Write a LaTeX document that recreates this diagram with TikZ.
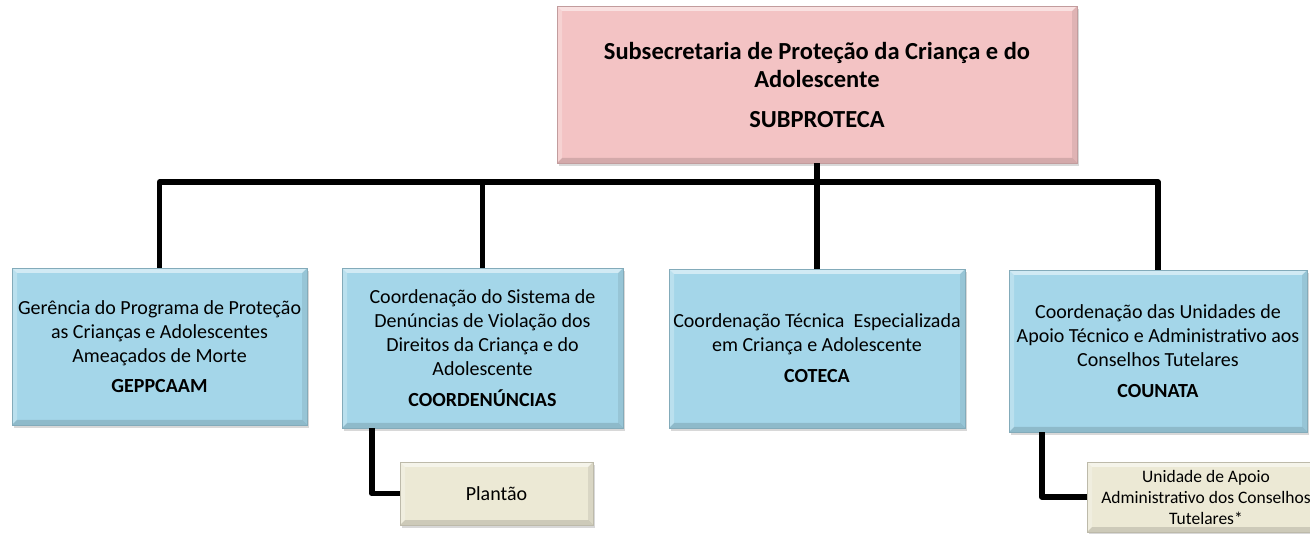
\documentclass[tikz,border=0pt]{standalone}
\usepackage{fontspec}
\setmainfont{Carlito}
\usetikzlibrary{shadows,calc}
\definecolor{boxblue}{HTML}{A4D6E9}
\definecolor{boxpink}{HTML}{F3C3C4}
\definecolor{boxtan}{HTML}{ECE9D5}
\tikzset{
  bevel/.style={path picture={
    \fill[white,opacity=0.5] (path picture bounding box.north west) -- (path picture bounding box.north east) -- ([xshift=-5pt,yshift=-5pt]path picture bounding box.north east) -- ([xshift=5pt,yshift=-5pt]path picture bounding box.north west) -- cycle;
    \fill[white,opacity=0.25] (path picture bounding box.north west) -- ([xshift=5pt,yshift=-5pt]path picture bounding box.north west) -- ([xshift=5pt,yshift=5pt]path picture bounding box.south west) -- (path picture bounding box.south west) -- cycle;
    \fill[black,opacity=0.13] (path picture bounding box.south west) -- (path picture bounding box.south east) -- ([xshift=-5pt,yshift=5pt]path picture bounding box.south east) -- ([xshift=5pt,yshift=5pt]path picture bounding box.south west) -- cycle;
    \fill[black,opacity=0.08] (path picture bounding box.north east) -- (path picture bounding box.south east) -- ([xshift=-5pt,yshift=5pt]path picture bounding box.south east) -- ([xshift=-5pt,yshift=-5pt]path picture bounding box.north east) -- cycle;
  }},
  orgbox/.style={draw=#1!80!black, line width=0.5pt, fill=#1, inner sep=0pt,
    align=center, bevel,
    drop shadow={shadow xshift=2pt, shadow yshift=-3pt, opacity=0.3}},
  bodyfont/.style={font=\fontsize{20}{24}\selectfont},
  conn/.style={line width=5.5pt, black, line join=round},
}
\begin{document}
\begin{tikzpicture}[x=1pt,y=-1pt]
\clip (0,0) rectangle (1310,534);
\fill[white] (0,0) rectangle (1310,534);

\node[orgbox=boxpink, minimum width=520pt, minimum height=157pt,
      font=\bfseries\fontsize{24.5}{28}\selectfont] (top) at (817,84.5)
  {Subsecretaria de Proteção da Criança e do\\Adolescente\\[12pt]SUBPROTECA};

\node[orgbox=boxblue, bodyfont, minimum width=295pt, minimum height=157pt] (gepp) at (159.5,346.5)
  {Gerência do Programa de Proteção\\as Crianças e Adolescentes\\Ameaçados de Morte\\[6pt]\textbf{GEPPCAAM}};

\node[orgbox=boxblue, bodyfont, minimum width=281pt, minimum height=160pt] (coord) at (482.5,348)
  {Coordenação do Sistema de\\Denúncias de Violação dos\\Direitos da Criança e do\\Adolescente\\[7pt]\textbf{COORDENÚNCIAS}};

\node[orgbox=boxblue, bodyfont, minimum width=296pt, minimum height=159pt] (coteca) at (817,348.5)
  {Coordenação Técnica\ \ Especializada\\em Criança e Adolescente\\[7pt]\textbf{COTECA}};

\node[orgbox=boxblue, bodyfont, minimum width=298pt, minimum height=162pt] (counata) at (1158,351)
  {Coordenação das Unidades de\\Apoio Técnico e Administrativo aos\\Conselhos Tutelares\\[7pt]\textbf{COUNATA}};

\node[orgbox=boxtan, bodyfont, minimum width=193pt, minimum height=63pt] (plantao) at (496.5,493.5)
  {Plantão};

\node[orgbox=boxtan, font=\fontsize{17.5}{21}\selectfont, minimum width=238pt, minimum height=70pt] (unidade) at (1206,497)
  {Unidade de Apoio\\Administrativo dos Conselhos\\Tutelares*};

\coordinate (bar) at ($(top.south)+(0,19)$);
\draw[conn] (top.south) -- (coteca.north);
\draw[conn] (gepp.north) |- (bar) -| (counata.north);
\draw[conn] (coord.north) -- (coord.north |- bar);

\coordinate (c1) at ($(coord.south west)+(30,0)$);
\draw[conn] (c1) |- (plantao.west);
\coordinate (c2) at ($(counata.south west)+(33,0)$);
\draw[conn] (c2) |- (unidade.west);
\end{tikzpicture}
\end{document}
